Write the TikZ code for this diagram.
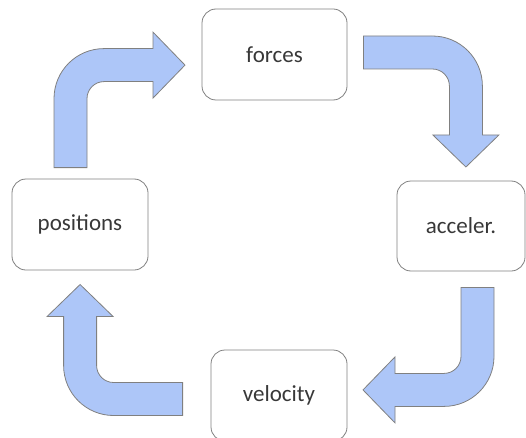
\documentclass[tikz,border=0pt]{standalone}
\usepackage{fontspec}
\setmainfont{Carlito}
\usetikzlibrary{calc}
\definecolor{arrowblue}{HTML}{ADC6F8}
\definecolor{edgegray}{HTML}{808080}
\tikzset{
	box/.style={draw=edgegray, line width=0.8pt, rounded corners=14pt, minimum height=91pt, inner sep=0pt, font=\fontsize{23}{27}\selectfont, text=black!78},
	pics/bentarrow/.style={code={
		\filldraw[fill=arrowblue, draw=edgegray, line width=0.8pt]
			(-16.5,0) -- (-16.5,69) arc (180:90:50) -- (82.5,119) -- (82.5,135.5)
			-- (114.5,102.5) -- (82.5,69.5) -- (82.5,86) -- (33.5,86)
			arc (90:180:17) -- (16.5,0) -- cycle;
	}}
}
\begin{document}
\begin{tikzpicture}[x=1pt,y=1pt]
	\useasboundingbox (0,0) rectangle (526,437);
	\node[box, minimum width=136pt] (positions) at (80,212.5) {positions};
	\node[box, minimum width=145pt] (forces) at (274.5,382.5) {forces};
	\node[box, minimum width=128pt, minimum height=90pt] (acceler) at (461,211) {acceler.};
	\node[box, minimum width=136pt] (velocity) at (279,41.5) {velocity};
	% loop: positions -> forces -> acceler. -> velocity -> positions
	\pic at ($(positions.north)+(-9.5,11)$) {bentarrow};
	\pic[rotate=-90] at ($(forces.east)+(16,2)$) {bentarrow};
	\pic[rotate=180] at ($(acceler.south)+(16.5,-16)$) {bentarrow};
	\pic[rotate=90] at ($(velocity.west)+(-28,-3.5)$) {bentarrow};
\end{tikzpicture}
\end{document}
